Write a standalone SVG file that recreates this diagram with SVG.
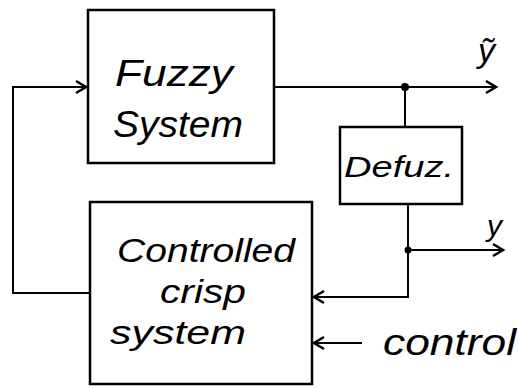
<svg xmlns="http://www.w3.org/2000/svg" width="518" height="389" viewBox="0 0 518 389">
<style>
.box{fill:none;stroke:#000;stroke-width:2.5}
.ln{fill:none;stroke:#000;stroke-width:2}
.t{font-family:"Liberation Sans",Arial,sans-serif;font-style:italic;fill:#000}
</style>
<defs>
<marker id="ah" markerWidth="16" markerHeight="16" refX="13" refY="8" orient="auto" markerUnits="userSpaceOnUse">
<path d="M3,2 L13,8 L3,14" fill="none" stroke="#000" stroke-width="2.5"/>
</marker>
</defs>
<rect width="518" height="389" fill="#fff"/>
<g id="fuzzy">
<rect class="box" x="88" y="10" width="186" height="153"/>
<text class="t" x="115" y="86" font-size="36" textLength="118" lengthAdjust="spacingAndGlyphs">Fuzzy</text>
<text class="t" x="113" y="137" font-size="36" textLength="130" lengthAdjust="spacingAndGlyphs">System</text>
</g>
<g id="defuz">
<rect class="box" x="340" y="127" width="122" height="77"/>
<text class="t" x="344" y="177" font-size="30" textLength="110" lengthAdjust="spacingAndGlyphs">Defuz.</text>
</g>
<g id="plant">
<rect class="box" x="90" y="202" width="222" height="182"/>
<text class="t" x="117" y="262" font-size="33" textLength="178" lengthAdjust="spacingAndGlyphs">Controlled</text>
<text class="t" x="160" y="303" font-size="33" textLength="86" lengthAdjust="spacingAndGlyphs">crisp</text>
<text class="t" x="110" y="344" font-size="33" textLength="136" lengthAdjust="spacingAndGlyphs">system</text>
</g>
<g id="connectors">
<polyline class="ln" points="90,293 13,293 13,87 86,87" marker-end="url(#ah)"/>
<line class="ln" x1="274" y1="87" x2="496" y2="87" marker-end="url(#ah)"/>
<circle cx="405" cy="87" r="4" fill="#000"/>
<line class="ln" x1="405" y1="87" x2="405" y2="127"/>
<polyline class="ln" points="408,204 408,297 314,297" marker-end="url(#ah)"/>
<circle cx="408" cy="250" r="3.5" fill="#000"/>
<line class="ln" x1="408" y1="250" x2="503" y2="250" stroke-width="3" marker-end="url(#ah)"/>
<line class="ln" x1="362" y1="343" x2="314" y2="343" marker-end="url(#ah)"/>
</g>
<g id="labels">
<text class="t" x="478" y="62" font-size="34">ỹ</text>
<text class="t" x="487" y="236" font-size="30">y</text>
<text class="t" x="383" y="355" font-size="36" textLength="133" lengthAdjust="spacingAndGlyphs">control</text>
</g>
</svg>
